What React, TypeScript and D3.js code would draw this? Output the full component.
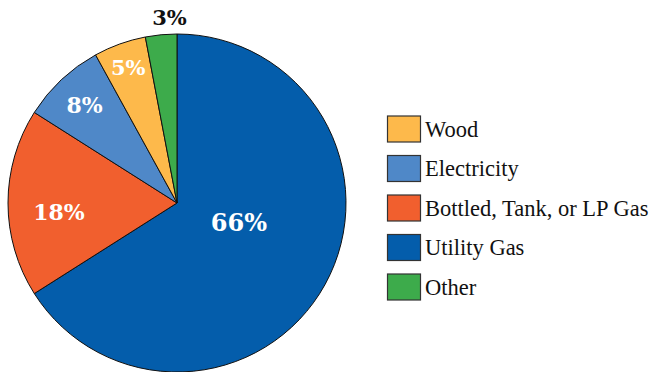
import React from "react";
import * as d3 from "d3";

const sliceCategories = ["Utility Gas", "Bottled, Tank, or LP Gas", "Electricity", "Wood", "Other"];
const sliceValues = [66, 18, 8, 5, 3];
const legendOrder = ["Wood", "Electricity", "Bottled, Tank, or LP Gas", "Utility Gas", "Other"];

const colors: Record<string, string> = {
  "Utility Gas": "#045DAB",
  "Bottled, Tank, or LP Gas": "#F15F2E",
  "Electricity": "#4F88C8",
  "Wood": "#FDB94B",
  "Other": "#3DAB4B",
};

const labelStyle: Record<string, { r: number; size: number; fill: string; dx: number; dy: number }> = {
  "Utility Gas": { r: 65, size: 24, fill: "#fff", dx: 5, dy: -12 },
  "Bottled, Tank, or LP Gas": { r: 118, size: 22, fill: "#fff", dx: 0, dy: 9 },
  "Electricity": { r: 135, size: 22, fill: "#fff", dx: 0, dy: 0 },
  "Wood": { r: 144, size: 21, fill: "#fff", dx: 0, dy: 0 },
  "Other": { r: 186, size: 21, fill: "#111", dx: 10, dy: 0 },
};

export default function App() {
  const W = 651, H = 372;
  const cx = 177, cy = 203, R = 169;
  const data = sliceCategories.map((c, i) => ({ c, v: sliceValues[i] }));
  const pie = d3.pie<{ c: string; v: number }>().value((d) => d.v).sort(null);
  const arcs = pie(data);
  const arc = d3.arc<d3.PieArcDatum<{ c: string; v: number }>>().innerRadius(0).outerRadius(R);

  const legendY = d3.scalePoint<string>().domain(legendOrder).range([129, 287]);

  return (
    <svg width={W} height={H} style={{ position: "absolute", left: 0, top: 0, background: "#fff" }}>
      <g transform={`translate(${cx},${cy})`}>
        {arcs.map((a) => (
          <path key={a.data.c} d={arc(a) || ""} fill={colors[a.data.c]} stroke="#111" strokeWidth={1} strokeLinejoin="round" />
        ))}
        {arcs.map((a) => {
          const s = labelStyle[a.data.c];
          const mid = (a.startAngle + a.endAngle) / 2;
          const x = Math.sin(mid) * s.r + s.dx;
          const y = -Math.cos(mid) * s.r + s.dy;
          return (
            <text key={a.data.c + "l"} x={x} y={y} textAnchor="middle" dominantBaseline="central"
              style={{ fontFamily: "DejaVu Serif", fontWeight: "bold", fontSize: `${s.size}px` }} fill={s.fill}>
              {`${a.data.v}%`}
            </text>
          );
        })}
      </g>
      {legendOrder.map((c) => {
        const y = legendY(c)!;
        return (
          <g key={c}>
            <rect x={387.5} y={y - 13} width={33} height={26} fill={colors[c]} stroke="#333" strokeWidth={1.2} />
            <text x={425} y={y + 7.5} style={{ fontFamily: "Liberation Serif", fontSize: "22.5px" }} fill="#111">{c}</text>
          </g>
        );
      })}
    </svg>
  );
}
